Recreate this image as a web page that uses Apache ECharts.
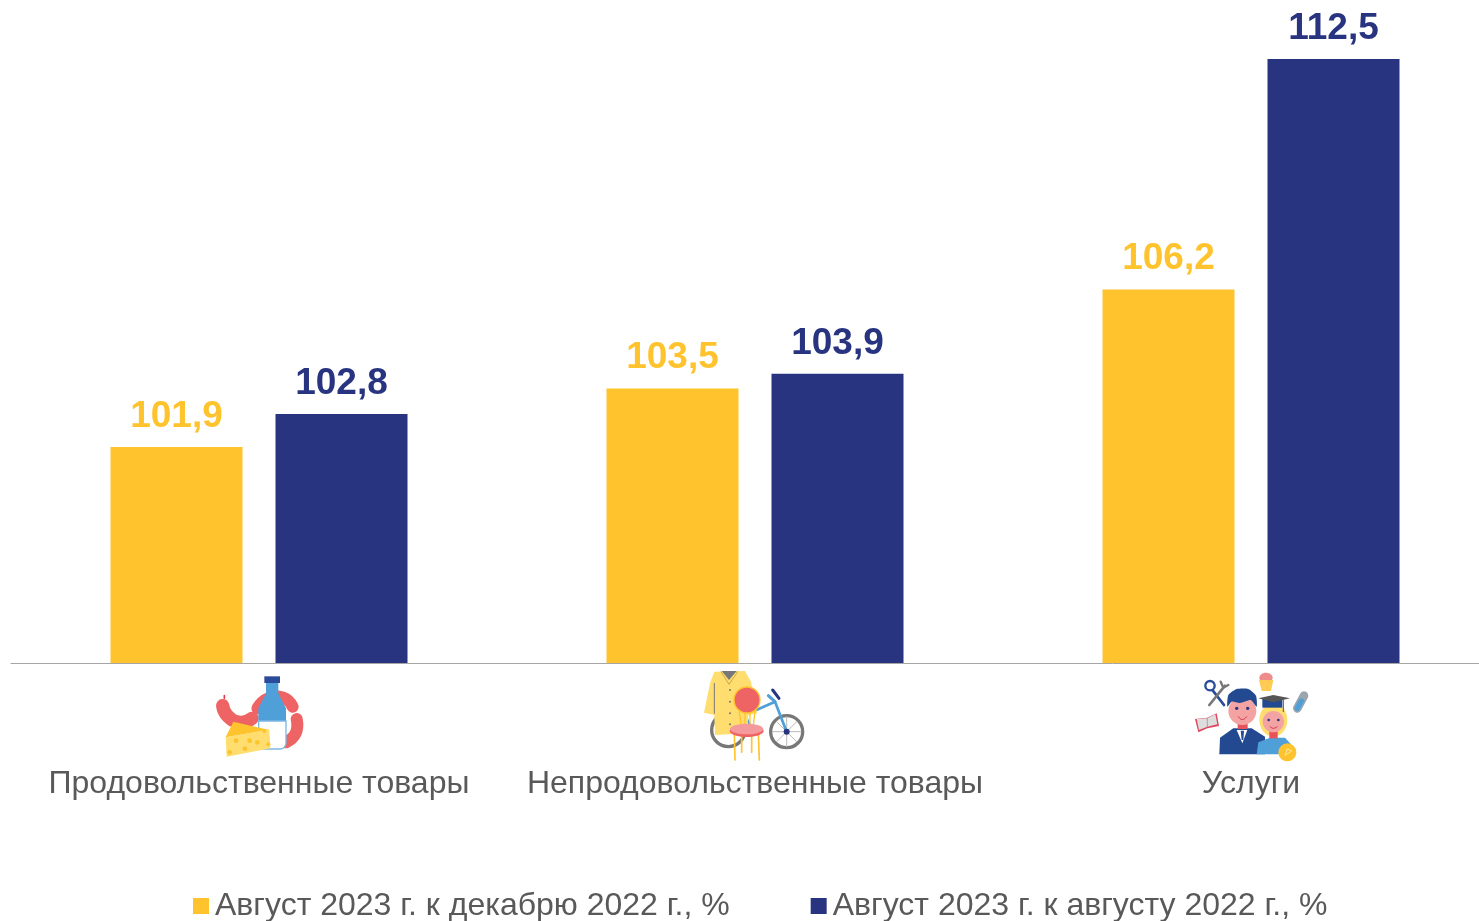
<!DOCTYPE html>
<html>
	<head>
		<meta charset="utf-8" />
		<title>Индексы цен</title>
		<script src="https://cdn.jsdelivr.net/npm/echarts@6/dist/echarts.min.js"></script>
		<style>
			html, body { margin: 0; padding: 0; background: #fff; overflow: hidden; }
		</style>
	</head>

	<body>
		<div id="main" style="width: 1479px;height:921px;"></div>
		<script type="text/javascript">
			var categories = ['Продовольственные товары', 'Непродовольственные товары', 'Услуги'];
			var seriesNames = ['Август 2023 г. к декабрю 2022 г., %', 'Август 2023 г. к августу 2022 г., %'];
			var decValues = [101.9, 103.5, 106.2];
			var augValues = [102.8, 103.9, 112.5];

			var YELLOW = '#FFC32D', NAVY = '#28347F', GRAY = '#595959';
			var FONT = '"Liberation Sans", Arial, sans-serif';
			var RED = '#EE6464', BLUE = '#4F9FD9', DARK = '#2A4A9A', PALE = '#FFDD6E', PINK = '#F4A3A3', STEEL = '#777777';

			// простые хелперы для иконок (координаты в масштабе 3x)
			function ln(pts, color, w, smooth) {
				return { type: 'polyline', shape: { points: pts, smooth: smooth || 0 }, style: { stroke: color, lineWidth: w, fill: null, lineCap: 'round', lineJoin: 'round' } };
			}
			function pg(pts, color, smooth) {
				return { type: 'polygon', shape: { points: pts, smooth: smooth || 0 }, style: { fill: color } };
			}
			function cc(x, y, r, fill, stroke, w) {
				return { type: 'circle', shape: { cx: x, cy: y, r: r }, style: { fill: fill, stroke: stroke || null, lineWidth: w || 0 } };
			}
			function el(x, y, rx, ry, fill) {
				return { type: 'ellipse', shape: { cx: x, cy: y, rx: rx, ry: ry }, style: { fill: fill } };
			}
			function icon(x, y, children) {
				return { type: 'group', x: x, y: y, scaleX: 1 / 3, scaleY: 1 / 3, silent: true, children: children };
			}

			var foodIcon = [
				ln([[172, 130], [205, 100], [250, 98], [278, 125]], RED, 36, 0.5),
				ln([[290, 162], [287, 205], [258, 232]], RED, 36, 0.5),
				ln([[68, 122], [82, 152], [120, 172], [156, 160]], RED, 40, 0.5),
				ln([[73, 100], [73, 92]], '#E53950', 5),
				pg([[198, 54], [235, 54], [235, 85], [258, 130], [258, 170], [175, 170], [175, 130], [198, 85]], BLUE),
				{ type: 'rect', shape: { x: 176, y: 168, width: 82, height: 84, r: [0, 0, 18, 18] }, style: { fill: '#fff', stroke: '#7DB8E4', lineWidth: 4 } },
				{ type: 'rect', shape: { x: 193, y: 34, width: 47, height: 20 }, style: { fill: DARK } },
				pg([[77, 217], [100, 170], [208, 195]], YELLOW),
				pg([[77, 217], [208, 193], [211, 250], [80, 275]], PALE),
				cc(108, 227, 7, YELLOW), cc(149, 227, 7, YELLOW), cc(172, 232, 7, YELLOW),
				cc(135, 251, 7, YELLOW), cc(89, 262, 7, YELLOW), cc(205, 238, 6, YELLOW), cc(193, 198, 6, YELLOW)
			];

			var goodsIcon = [
				cc(100, 195, 50, '#fff', STEEL, 10),
				cc(275, 200, 48, '#fff', STEEL, 10),
				ln([[275, 155], [275, 245]], '#BBBBBB', 3), ln([[232, 200], [318, 200]], '#BBBBBB', 3),
				ln([[245, 170], [305, 230]], '#BBBBBB', 3), ln([[305, 170], [245, 230]], '#BBBBBB', 3),
				ln([[275, 200], [240, 110], [150, 150]], BLUE, 8),
				ln([[240, 110], [220, 92]], BLUE, 9),
				ln([[233, 75], [252, 100]], NAVY, 9),
				ln([[150, 150], [175, 200]], BLUE, 7),
				cc(275, 200, 9, NAVY),
				pg([[58, 20], [150, 18], [168, 50], [186, 145], [160, 150], [156, 205], [60, 210], [58, 150], [27, 143], [45, 55]], PALE),
				pg([[80, 18], [125, 18], [102, 45]], STEEL),
				ln([[78, 20], [102, 58], [128, 20]], '#C9A94E', 3),
				ln([[58, 55], [58, 145]], STEEL, 3),
				cc(105, 75, 3, STEEL), cc(105, 110, 3, STEEL), cc(105, 145, 3, STEEL), cc(105, 178, 3, STEEL),
				cc(156, 105, 39, RED, YELLOW, 4),
				ln([[133, 140], [138, 182]], YELLOW, 4), ln([[150, 145], [150, 182]], YELLOW, 4),
				ln([[165, 145], [165, 182]], YELLOW, 4), ln([[180, 138], [175, 182]], YELLOW, 4),
				ln([[118, 205], [120, 285]], YELLOW, 5), ln([[140, 210], [140, 262]], YELLOW, 5),
				ln([[170, 212], [170, 262]], YELLOW, 5), ln([[190, 205], [193, 285]], YELLOW, 5),
				el(155, 198, 51, 18, RED),
				el(155, 192, 50, 16, '#F4999C')
			];

			var peopleIcon = [
				// инструменты
				cc(60, 62, 14, 'none', DARK, 7),
				ln([[68, 76], [102, 120]], DARK, 8),
				ln([[58, 120], [105, 62]], STEEL, 8),
				ln([[92, 50], [100, 68], [115, 60]], STEEL, 7),
				// книга
				pg([[15, 162], [52, 158], [80, 145], [87, 183], [52, 190], [25, 202]], '#E0455F'),
				pg([[20, 162], [52, 160], [76, 148], [82, 178], [52, 185], [27, 195]], '#DDDDDD'),
				ln([[52, 160], [52, 185]], '#888888', 2),
				// кекс
				el(228, 38, 20, 15, '#EE8C8C'),
				pg([[207, 45], [250, 45], [243, 78], [215, 78]], '#FFCB52'),
				// пробирка
				ln([[342, 92], [322, 130]], '#9AA5AD', 26),
				ln([[334, 108], [322, 130]], BLUE, 16),
				// мужчина
				pg([[88, 268], [90, 218], [130, 190], [185, 190], [225, 215], [225, 268]], '#234A90'),
				pg([[140, 195], [172, 195], [157, 235]], '#fff'),
				pg([[152, 197], [162, 197], [160, 225], [155, 225]], '#234A90'),
				{ type: 'rect', shape: { x: 143, y: 172, width: 30, height: 20 }, style: { fill: '#E8525A' } },
				el(157, 138, 42, 42, PINK),
				pg([[112, 125], [115, 90], [140, 72], [175, 72], [198, 92], [200, 125], [182, 105], [150, 114], [125, 110]], '#234A90', 0.2),
				cc(140, 130, 5, NAVY), cc(173, 130, 5, NAVY),
				ln([[145, 155], [157, 164], [170, 155]], '#D93A4E', 3, 0.5),
				// женщина
				pg([[200, 268], [205, 232], [240, 218], [285, 218], [300, 235], [300, 268]], BLUE),
				el(250, 165, 42, 50, PALE),
				{ type: 'rect', shape: { x: 238, y: 195, width: 25, height: 25 }, style: { fill: '#E8525A' } },
				el(250, 170, 32, 32, PINK),
				{ type: 'rect', shape: { x: 217, y: 102, width: 60, height: 26 }, style: { fill: '#234A90' } },
				pg([[205, 100], [250, 90], [300, 100], [250, 112]], '#555555'),
				ln([[280, 105], [280, 140]], '#555555', 3),
				cc(236, 165, 4, NAVY), cc(265, 165, 4, NAVY),
				ln([[240, 185], [250, 190], [262, 185]], '#D93A4E', 3, 0.5),
				// монета
				cc(292, 262, 27, YELLOW),
				ln([[285, 272], [292, 252], [305, 258], [290, 268]], '#FFE9A8', 3)
			];

			var myChart = echarts.init(document.getElementById('main'));

			var option = {
				backgroundColor: '#fff',
				animation: false,
				// сетка шире окна: так центры групп совпадают с оригиналом
				grid: { left: 11, top: 59, width: 1488, height: 604, outerBoundsMode: 'none' },
				legend: {
					left: 188,
					top: 885,
					itemWidth: 16,
					itemHeight: 16,
					itemGap: 81,
					icon: 'rect',
					textStyle: { color: GRAY, fontSize: 32, fontFamily: FONT, padding: [2, 0, 0, 1] },
					data: seriesNames
				},
				xAxis: {
					type: 'category',
					data: categories,
					axisLine: { lineStyle: { color: '#A6A6A6', width: 1 } },
					axisTick: { show: false },
					axisLabel: { margin: 105, color: GRAY, fontSize: 32, fontFamily: FONT, interval: 0 }
				},
				yAxis: {
					type: 'value',
					min: 96,
					max: 112.5,
					show: false
				},
				series: [
					{
						name: seriesNames[0],
						type: 'bar',
						data: decValues,
						barWidth: 132,
						barGap: '25%',
						itemStyle: { color: YELLOW },
						label: { show: true, position: 'top', distance: 12, color: YELLOW, fontSize: 37, fontWeight: 'bold', fontFamily: FONT, formatter: fmt }
					},
					{
						name: seriesNames[1],
						type: 'bar',
						data: augValues,
						barWidth: 132,
						barGap: '25%',
						itemStyle: { color: NAVY },
						label: { show: true, position: 'top', distance: 12, color: NAVY, fontSize: 37, fontWeight: 'bold', fontFamily: FONT, formatter: fmt }
					}
				],
				graphic: [
					icon(200, 665, foodIcon),
					icon(695, 665, goodsIcon),
					icon(1190, 665, peopleIcon)
				]
			};

			function fmt(p) {
				return p.value.toFixed(1).replace('.', ',');
			}

			myChart.setOption(option);
		</script>
	</body>
</html>
